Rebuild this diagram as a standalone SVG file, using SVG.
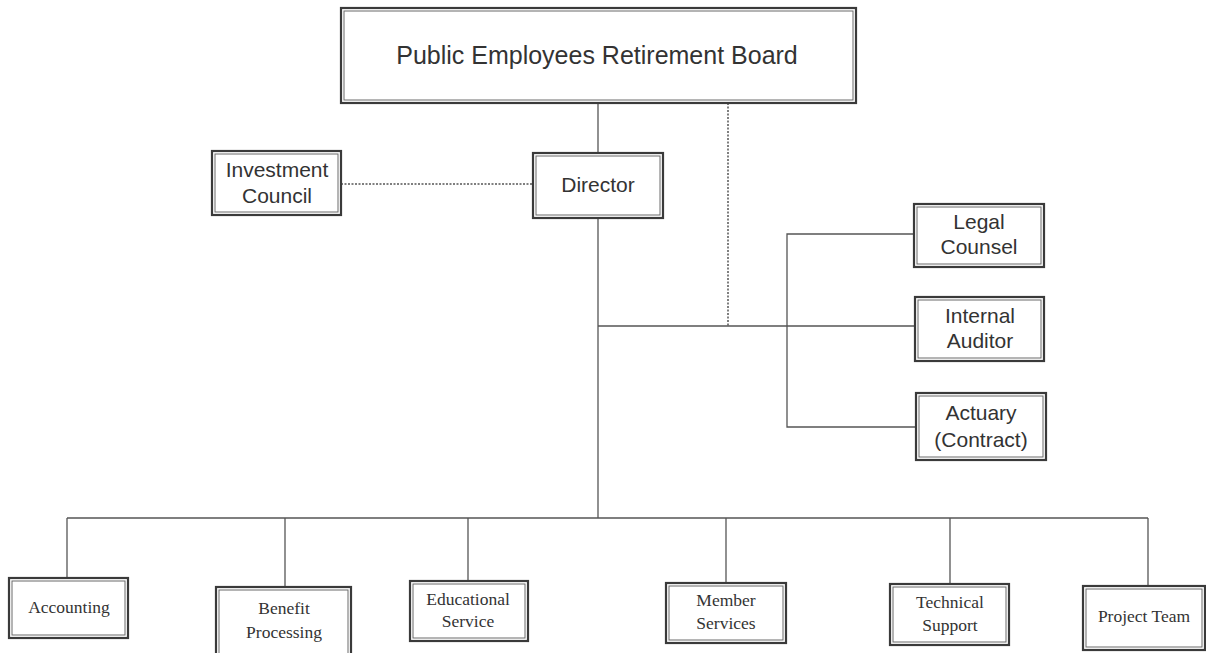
<svg xmlns="http://www.w3.org/2000/svg" width="1206" height="653" viewBox="0 0 1206 653">
<style>
.o{fill:#fff;stroke:#3a3a3a;stroke-width:2.2}
.i{fill:none;stroke:#6a6a6a;stroke-width:1}
.ln{fill:none;stroke:#555;stroke-width:1.3}
.dt{fill:none;stroke:#555;stroke-width:1.5;stroke-dasharray:2 1.5}
.s{font-family:"Liberation Sans",Arial,sans-serif;font-size:21px;fill:#333;text-anchor:middle}
.t{font-family:"Liberation Serif","Times New Roman",serif;font-size:17.5px;fill:#333;text-anchor:middle}
</style>
<rect width="1206" height="653" fill="#fff"/>
<g id="connectors">
<line class="ln" x1="598" y1="103" x2="598" y2="153"/>
<line class="dt" x1="341" y1="184" x2="533" y2="184"/>
<line class="dt" x1="728" y1="103" x2="728" y2="326"/>
<line class="ln" x1="598" y1="218" x2="598" y2="518"/>
<line class="ln" x1="598" y1="326" x2="916" y2="326"/>
<polyline class="ln" points="914,234 787,234 787,427 916,427"/>
<line class="ln" x1="67" y1="518" x2="1148" y2="518"/>
<line class="ln" x1="67" y1="518" x2="67" y2="579"/>
<line class="ln" x1="285" y1="518" x2="285" y2="588"/>
<line class="ln" x1="468" y1="518" x2="468" y2="581"/>
<line class="ln" x1="726" y1="518" x2="726" y2="583"/>
<line class="ln" x1="950" y1="518" x2="950" y2="584"/>
<line class="ln" x1="1148" y1="518" x2="1148" y2="586"/>
</g>
<g id="board"><rect class="o" x="341" y="8" width="515" height="95"/><rect class="i" x="344" y="11" width="509" height="89"/>
<text class="s" x="597" y="64" style="font-size:25px">Public Employees Retirement Board</text></g>
<g id="investment"><rect class="o" x="212" y="151" width="129" height="64"/><rect class="i" x="215" y="154" width="123" height="58"/>
<text class="s" x="277" y="177">Investment</text><text class="s" x="277" y="203">Council</text></g>
<g id="director"><rect class="o" x="533" y="153" width="130" height="65"/><rect class="i" x="536" y="156" width="124" height="59"/>
<text class="s" x="598" y="192">Director</text></g>
<g id="legal"><rect class="o" x="914" y="204" width="130" height="63"/><rect class="i" x="917" y="207" width="124" height="57"/>
<text class="s" x="979" y="229">Legal</text><text class="s" x="979" y="254">Counsel</text></g>
<g id="auditor"><rect class="o" x="915" y="297" width="129" height="64"/><rect class="i" x="918" y="300" width="123" height="58"/>
<text class="s" x="980" y="323">Internal</text><text class="s" x="980" y="348">Auditor</text></g>
<g id="actuary"><rect class="o" x="916" y="393" width="130" height="67"/><rect class="i" x="919" y="396" width="124" height="61"/>
<text class="s" x="981" y="420">Actuary</text><text class="s" x="981" y="447">(Contract)</text></g>
<g id="accounting"><rect class="o" x="9" y="578" width="119" height="60"/><rect class="i" x="12" y="581" width="113" height="54"/>
<text class="t" x="69" y="613">Accounting</text></g>
<g id="benefit"><rect class="o" x="216" y="587" width="135" height="70"/><rect class="i" x="219" y="590" width="129" height="64"/>
<text class="t" x="284" y="614">Benefit</text><text class="t" x="284" y="638">Processing</text></g>
<g id="educational"><rect class="o" x="410" y="581" width="118" height="60"/><rect class="i" x="413" y="584" width="112" height="54"/>
<text class="t" x="468" y="605">Educational</text><text class="t" x="468" y="627">Service</text></g>
<g id="member"><rect class="o" x="666" y="583" width="120" height="60"/><rect class="i" x="669" y="586" width="114" height="54"/>
<text class="t" x="726" y="606">Member</text><text class="t" x="726" y="629">Services</text></g>
<g id="technical"><rect class="o" x="890" y="584" width="119" height="61"/><rect class="i" x="893" y="587" width="113" height="55"/>
<text class="t" x="950" y="608">Technical</text><text class="t" x="950" y="631">Support</text></g>
<g id="project"><rect class="o" x="1083" y="586" width="122" height="64"/><rect class="i" x="1086" y="589" width="116" height="58"/>
<text class="t" x="1144" y="622">Project Team</text></g>
</svg>
